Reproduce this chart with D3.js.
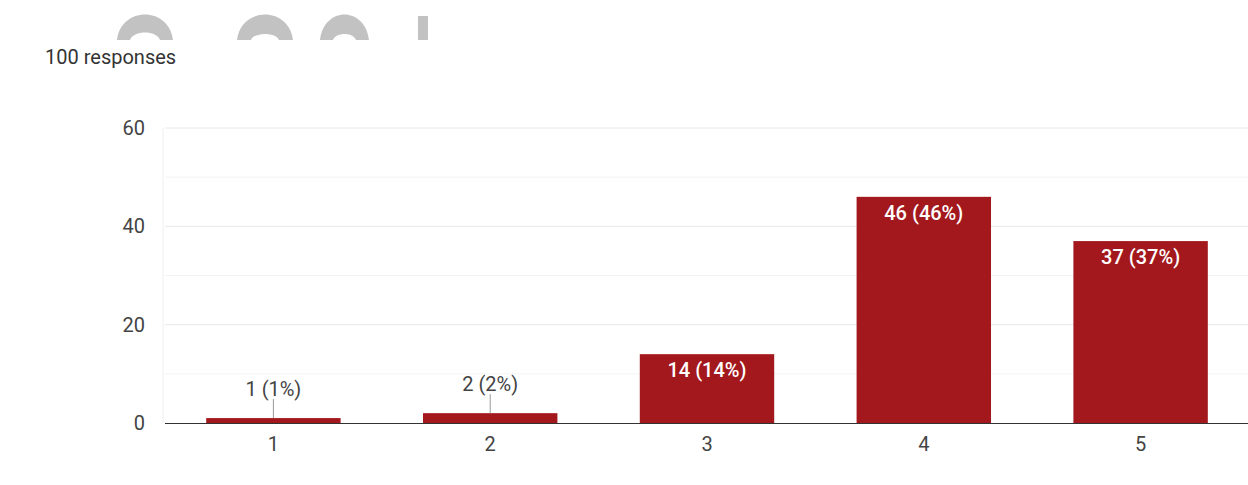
<!DOCTYPE html>
<html>
<head>
<meta charset="utf-8">
<script src="https://cdn.jsdelivr.net/npm/d3@7"></script>
<style>
  html, body { margin: 0; padding: 0; background: #fff; }
  svg { display: block; font-family: Roboto, "Liberation Sans", Arial, sans-serif; }
</style>
</head>
<body>
<svg id="chart" width="1248" height="485"></svg>
<script>
// Rating scale answers and their counts
const categories = ["1", "2", "3", "4", "5"];
const counts = [1, 2, 14, 46, 37];
const totalResponses = 100;
const yTicks = [0, 20, 40, 60];
const yMinorTicks = [10, 30, 50];

const svg = d3.select("#chart");
const W = 1248, H = 485;
const margin = { top: 128, right: -1, bottom: 62, left: 165 };
const innerW = W - margin.left - margin.right;
const innerH = H - margin.top - margin.bottom;
const FONT = "Roboto, 'Liberation Sans', Arial, sans-serif";
const FS = 20;

// Faded header artwork behind the top edge
const deco = svg.append("g").attr("fill", "#c2c2c2");
deco.append("path").attr("d", "M117,40 C121,6 169,6 173,40 L160,40 C157,30 133,30 130,40 Z");
deco.append("path").attr("d", "M237,40 C241,6 289,6 293,40 L279,40 C276,32 254,32 251,40 Z");
deco.append("path").attr("d", "M320,40 C324,6 365,6 369,40 L356,40 C353,32 336,32 333,40 Z");
deco.append("rect").attr("x", 418).attr("y", 16).attr("width", 10).attr("height", 24);
svg.append("rect").attr("x", 0).attr("y", 40).attr("width", W).attr("height", H - 40).attr("fill", "#fff");

svg.append("text")
  .attr("x", 45).attr("y", 64)
  .attr("font-size", FS).attr("fill", "#333")
  .text(`${totalResponses} responses`);

const g = svg.append("g").attr("transform", `translate(${margin.left},${margin.top})`);

const x = d3.scaleBand().domain(categories).range([0, innerW]).paddingInner(0.38).paddingOuter(0.19);
const y = d3.scaleLinear().domain([0, 60]).range([innerH, 0]);

// Grid
g.selectAll(".minor").data(yMinorTicks).join("line")
  .attr("x1", 0).attr("x2", innerW)
  .attr("y1", d => y(d)).attr("y2", d => y(d))
  .attr("stroke", "#f3f3f3").attr("stroke-width", 1);
g.selectAll(".major").data(yTicks.filter(d => d > 0)).join("line")
  .attr("x1", 0).attr("x2", innerW)
  .attr("y1", d => y(d)).attr("y2", d => y(d))
  .attr("stroke", "#e8e8e8").attr("stroke-width", 1);
g.append("line").attr("x1", -2).attr("x2", -2).attr("y1", 0).attr("y2", innerH)
  .attr("stroke", "#f0f0f0");

// Y axis labels
const yAxis = d3.axisLeft(y).tickValues(yTicks).tickSize(0).tickPadding(20);
g.append("g").call(yAxis)
  .call(s => s.select(".domain").remove())
  .call(s => s.selectAll("text").attr("font-size", FS).attr("fill", "#444")
    .attr("font-family", FONT));

// Bars
g.selectAll(".bar").data(counts).join("rect")
  .attr("x", (d, i) => x(categories[i]))
  .attr("y", d => y(d))
  .attr("width", x.bandwidth())
  .attr("height", d => innerH - y(d))
  .attr("fill", "#a3181d");

// Baseline
g.append("line").attr("x1", 0).attr("x2", innerW).attr("y1", innerH + 0.5).attr("y2", innerH + 0.5)
  .attr("stroke", "#333").attr("stroke-width", 1.2);

// X axis labels
const xAxis = d3.axisBottom(x).tickSize(0).tickPadding(14);
g.append("g").attr("transform", `translate(0,${innerH})`).call(xAxis)
  .call(s => s.select(".domain").remove())
  .call(s => s.selectAll("text").attr("font-size", FS).attr("fill", "#444")
    .attr("font-family", FONT));

// Value labels: inside tall bars, above short ones with a leader line
const fmt = d => `${d} (${Math.round(d / totalResponses * 100)}%)`;
counts.forEach((d, i) => {
  const cx = x(categories[i]) + x.bandwidth() / 2;
  const barH = innerH - y(d);
  if (barH > 30) {
    g.append("text").attr("x", cx).attr("y", y(d) + 23)
      .attr("text-anchor", "middle").attr("font-size", FS)
      .attr("font-weight", 500).attr("fill", "#fff")
      .text(fmt(d));
  } else {
    g.append("line").attr("x1", cx).attr("x2", cx).attr("y1", y(d) - 19).attr("y2", y(d))
      .attr("stroke", "#999").attr("stroke-width", 1);
    g.append("text").attr("x", cx).attr("y", y(d) - 22)
      .attr("text-anchor", "middle").attr("font-size", FS)
      .attr("fill", "#444")
      .text(fmt(d));
  }
});
</script>
</body>
</html>
